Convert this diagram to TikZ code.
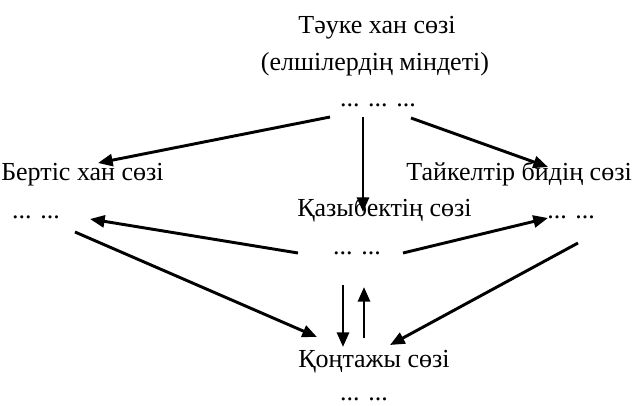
\documentclass[tikz,border=0pt]{standalone}
\usepackage{fontspec}
\setmainfont{Liberation Serif}
\usetikzlibrary{arrows.meta}

\tikzset{
	lbl/.style={font=\fontsize{19.5}{24}\selectfont, inner sep=0pt},
	arr/.style={-{Triangle[length=11pt,width=9pt]}, line width=2.2pt},
}

\begin{document}
\begin{tikzpicture}[x=0.75pt,y=-0.75pt]
	\useasboundingbox (0,0) rectangle (633,405);
	% top
	\node[lbl, anchor=base] (tauke) at (377,33) {Тәуке хан сөзі};
	\node[lbl, anchor=base] (duty) at (375,70) {(елшілердің міндеті)};
	\node[lbl, anchor=base] (tdots) at (378,106) {... ... ...};
	% middle row
	\node[lbl, anchor=base west] (bertis) at (1,180) {Бертіс хан сөзі};
	\node[lbl, anchor=base] (bdots) at (36,218) {... ...};
	\node[lbl, anchor=base east] (taik) at (632,180) {Тайкелтір бидің сөзі};
	\node[lbl, anchor=base west] (rdots) at (547,218) {... ...};
	\node[lbl, anchor=base west] (kazybek) at (297,216) {Қазыбектің сөзі};
	\node[lbl, anchor=base] (kdots) at (357,254) {... ...};
	% bottom
	\node[lbl, anchor=base west] (kontazhy) at (298,367) {Қоңтажы сөзі};
	\node[lbl, anchor=base] (kondots) at (364,400) {... ...};

	\draw[arr] ([shift={(-48,11)}]tdots.base) -- ([shift={(97,-17)}]bertis.base west);
	\draw[arr] ([shift={(-15,11)}]tdots.base) -- ([shift={(66,-4)}]kazybek.base west);
	\draw[arr] ([shift={(33,12)}]tdots.base) -- ([shift={(-84,-13)}]taik.base east);
	\draw[arr] ([shift={(-59,-1)}]kdots.base) -- ([shift={(54,1)}]bdots.base);
	\draw[arr] ([shift={(46,-1)}]kdots.base) -- ([shift={(1,0)}]rdots.base west);
	\draw[arr] ([shift={(39,14)}]bdots.base) -- ([shift={(19,-30)}]kontazhy.base west);
	\draw[arr] ([shift={(31,25)}]rdots.base west) -- ([shift={(92,-22)}]kontazhy.base west);
	\draw[arr] ([shift={(-14,31)}]kdots.base) -- ([shift={(45,-20)}]kontazhy.base west);
	\draw[arr] ([shift={(66,-29)}]kontazhy.base west) -- ([shift={(7,33)}]kdots.base);
\end{tikzpicture}
\end{document}
